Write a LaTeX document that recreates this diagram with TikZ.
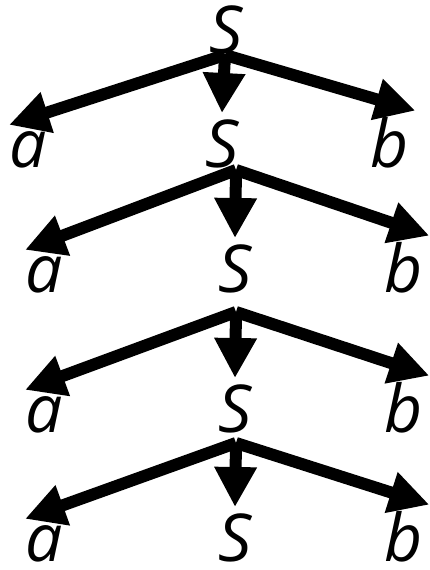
\documentclass[tikz,border=0pt]{standalone}
\usepackage{fontspec}
\setmainfont{Open Sans}
\usetikzlibrary{arrows.meta}

\begin{document}
\begin{tikzpicture}[
    x=1pt, y=-1pt,
    sym/.style={anchor=base, inner xsep=0pt, inner ysep=6pt,
                font=\fontsize{66}{66}\selectfont\itshape},
    rsym/.style={sym, inner xsep=6pt},
    arrow/.style={-{Triangle[length=40pt,width=40pt]}, line width=12pt}
  ]
  \useasboundingbox (0,0) rectangle (429,570);

  % Nodes
  \node[sym] (s0) at (226,53)  {S};

  \node[sym]  (a1) at (28,167)  {a};
  \node[sym]  (s1) at (222,167) {S};
  \node[rsym] (b1) at (390,167) {b};

  \node[sym]  (a2) at (44,292)  {a};
  \node[sym]  (s2) at (235,292) {S};
  \node[rsym] (b2) at (404,292) {b};

  \node[sym]  (a3) at (44,432)  {a};
  \node[sym]  (s3) at (235,432) {S};
  \node[rsym] (b3) at (404,432) {b};

  \node[sym]  (a4) at (44,561)  {a};
  \node[sym]  (s4) at (235,561) {S};
  \node[rsym] (b4) at (404,561) {b};

  % Branch points under each S
  \coordinate (j0) at (225,55);
  \coordinate (j1) at (236,170);
  \coordinate (j2) at (236,312);
  \coordinate (j3) at (236,443);

  % Arrows: S -> a S b
  \draw[arrow] (j0) -- (a1.north west);
  \draw[arrow] (j0) -- (s1.north);
  \draw[arrow] (j0) -- (b1.north east);

  \draw[arrow] (j1) -- (a2.north west);
  \draw[arrow] (j1) -- (s2.north);
  \draw[arrow] (j1) -- (b2.north east);

  \draw[arrow] (j2) -- (a3.north west);
  \draw[arrow] (j2) -- (s3.north);
  \draw[arrow] (j2) -- (b3.north east);

  \draw[arrow] (j3) -- (a4.north west);
  \draw[arrow] (j3) -- (s4.north);
  \draw[arrow] (j3) -- (b4.north east);
\end{tikzpicture}
\end{document}
